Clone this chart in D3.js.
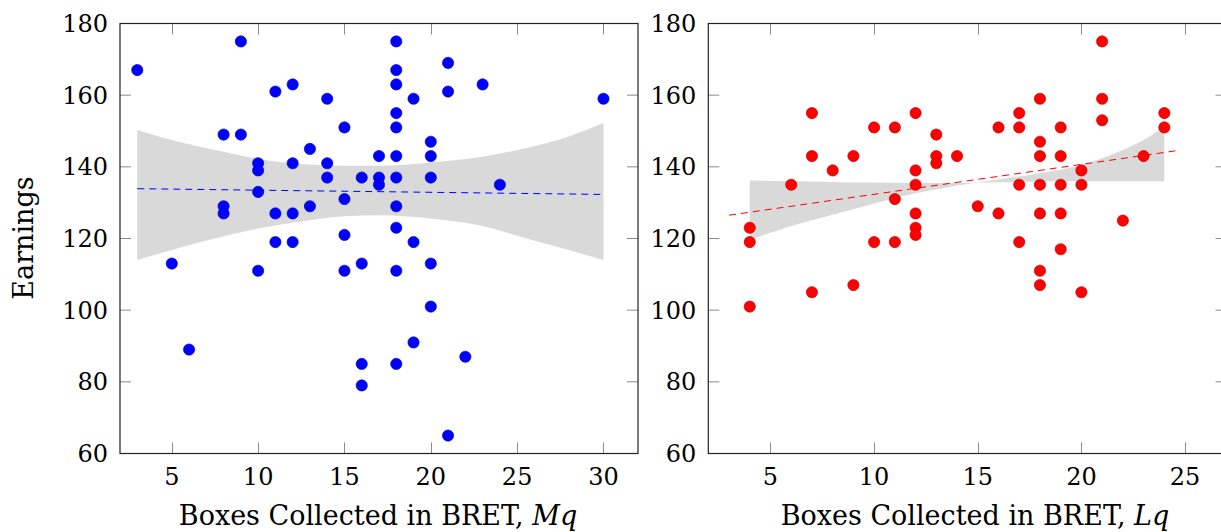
<!DOCTYPE html>
<html>
<head>
<meta charset="utf-8">
<script src="https://cdn.jsdelivr.net/npm/d3@7"></script>
<style>
  body { margin: 0; background: #fff; }
  text { font-family: "DejaVu Serif", serif; fill: #000; }
</style>
</head>
<body>
<div id="chart"></div>
<script>
// values
var yTicks = [60, 80, 100, 120, 140, 160, 180];
var mqTicks = [5, 10, 15, 20, 25, 30];
var lqTicks = [5, 10, 15, 20, 25];

var mqPoints = [[3,167],[5,113],[6,89],[8,149],[8,129],[8,127],[9,175],[9,149],
  [10,141],[10,139],[10,133],[10,111],[11,161],[11,127],[11,119],[12,163],[12,141],
  [12,127],[12,119],[13,145],[13,129],[14,159],[14,141],[14,137],[15,151],[15,131],
  [15,121],[15,111],[16,137],[16,113],[16,85],[16,79],[17,143],[17,137],[17,135],
  [18,175],[18,167],[18,163],[18,155],[18,151],[18,143],[18,137],[18,129],[18,123],
  [18,111],[18,85],[19,159],[19,119],[19,91],[20,147],[20,143],[20,137],[20,113],
  [20,101],[21,169],[21,161],[21,65],[22,87],[23,163],[24,135],[30,159]];

var lqPoints = [[4,123],[4,119],[4,101],[6,135],[7,155],[7,143],[7,105],[8,139],
  [9,143],[9,107],[10,151],[10,119],[11,151],[11,131],[11,119],[12,155],[12,139],
  [12,135],[12,127],[12,123],[12,121],[13,149],[13,143],[13,141],[14,143],[15,129],
  [16,151],[16,127],[17,155],[17,151],[17,135],[17,119],[18,159],[18,147],[18,143],
  [18,135],[18,127],[18,111],[18,107],[19,151],[19,143],[19,135],[19,127],[19,117],
  [20,139],[20,135],[20,105],[21,175],[21,159],[21,153],[22,125],[23,143],[24,155],
  [24,151]];

// fitted line ends
var mqFit = [[3,133.9],[30,132.3]];
var lqFit = [[3,126.5],[24.7,144.6]];

// grey bands
var mqBandX     = [3, 5, 8, 10, 12, 15, 17, 20, 23, 25, 28, 30];
var mqBandUpper = [150.3, 147.5, 144.2, 142.2, 141.0, 140.3, 140.3, 141.2, 142.8, 144.7, 148.5, 152.2];
var mqBandLower = [114.0, 116.8, 120.6, 122.8, 124.4, 126.2, 126.5, 125.6, 123.5, 120.8, 116.8, 114.0];

var lqBandX  = [4, 6, 8, 10, 12, 14, 16, 18, 20, 21, 22, 23, 24];
var lqBandA  = [136.2, 136.0, 135.8, 135.6, 135.5, 135.5, 135.7, 135.9, 136.0, 136.0, 136.0, 136.0, 136.0];
var lqBandB  = [119.6, 123.5, 126.6, 129.8, 132.6, 134.8, 136.5, 138.2, 140.5, 142.4, 144.7, 147.5, 151.2];

var width = 1221, height = 532;
var top_ = 23.5, bottom = 453.5;

var svg = d3.select("#chart").append("svg")
            .attr("width", width)
            .attr("height", height);

var y = d3.scaleLinear().domain([60, 180]).range([bottom, top_]);

function panel(opts) {
  var x = d3.scaleLinear().domain(opts.domain).range([opts.left, opts.right]);
  var g = svg.append("g");

  var band = opts.bandX.map((d, i) => ({ x: d, a: opts.bandA[i], b: opts.bandB[i] }));
  g.append("path")
    .datum(band)
    .attr("fill", "#d9d9d9")
    .attr("d", d3.area()
      .x(d => x(d.x))
      .y0(d => y(d.a))
      .y1(d => y(d.b))
      .curve(d3.curveMonotoneX));

  g.append("path")
    .datum(opts.fit)
    .attr("fill", "none")
    .attr("stroke", opts.color)
    .attr("stroke-width", 1)
    .attr("stroke-dasharray", "7,5")
    .attr("d", d3.line().x(d => x(d[0])).y(d => y(d[1])));

  g.selectAll("circle")
    .data(opts.points)
    .enter().append("circle")
      .attr("cx", d => x(d[0]))
      .attr("cy", d => y(d[1]))
      .attr("r", 5.6)
      .attr("fill", opts.color)
      .attr("stroke", opts.edge)
      .attr("stroke-width", 0.7);

  // ticks, inside, mirrored
  var tk = g.append("g").attr("stroke", "#8a8a8a").attr("stroke-width", 1);
  opts.ticks.forEach(t => {
    var px = Math.round(x(t)) + 0.5;
    tk.append("line").attr("x1", px).attr("x2", px).attr("y1", bottom).attr("y2", bottom - 11);
    tk.append("line").attr("x1", px).attr("x2", px).attr("y1", top_).attr("y2", top_ + 11);
  });
  yTicks.slice(1, -1).forEach(t => {
    tk.append("line").attr("x1", opts.left).attr("x2", opts.left + 11).attr("y1", y(t)).attr("y2", y(t));
    tk.append("line").attr("x1", opts.right).attr("x2", opts.right - 11).attr("y1", y(t)).attr("y2", y(t));
  });

  g.append("rect")
    .attr("x", opts.left)
    .attr("y", top_)
    .attr("width", opts.right - opts.left)
    .attr("height", bottom - top_)
    .attr("fill", "none")
    .attr("stroke", "#222")
    .attr("stroke-width", 1.2);

  g.selectAll(".xt")
    .data(opts.ticks)
    .enter().append("text")
      .attr("class", "xt")
      .attr("x", d => x(d))
      .attr("y", 485)
      .attr("text-anchor", "middle")
      .style("font-size", "24px")
      .text(d => d);

  g.selectAll(".yt")
    .data(yTicks)
    .enter().append("text")
      .attr("class", "yt")
      .attr("x", opts.left - 12)
      .attr("y", d => y(d))
      .attr("dy", "0.36em")
      .attr("text-anchor", "end")
      .style("font-size", "24px")
      .text(d => d);

  var lab = g.append("text")
    .attr("x", opts.labelX)
    .attr("y", 525)
    .attr("text-anchor", "middle")
    .style("font-size", "27px");
  lab.append("tspan").text("Boxes Collected in BRET, ");
  lab.append("tspan").style("font-style", "italic").text(opts.sym);
}

panel({
  domain: [2, 32], left: 120, right: 638,
  ticks: mqTicks, points: mqPoints, fit: mqFit,
  bandX: mqBandX, bandA: mqBandUpper, bandB: mqBandLower,
  color: "#0000ff", edge: "#0000c8", sym: "Mq", labelX: 378
});

panel({
  domain: [2, 27], left: 708.3, right: 1226.5,
  ticks: lqTicks, points: lqPoints, fit: lqFit,
  bandX: lqBandX, bandA: lqBandA, bandB: lqBandB,
  color: "#ff0000", edge: "#c80000", sym: "Lq", labelX: 975
});

svg.append("text")
  .attr("transform", "translate(33,238) rotate(-90)")
  .attr("text-anchor", "middle")
  .style("font-size", "27px")
  .text("Earnings");
</script>
</body>
</html>
